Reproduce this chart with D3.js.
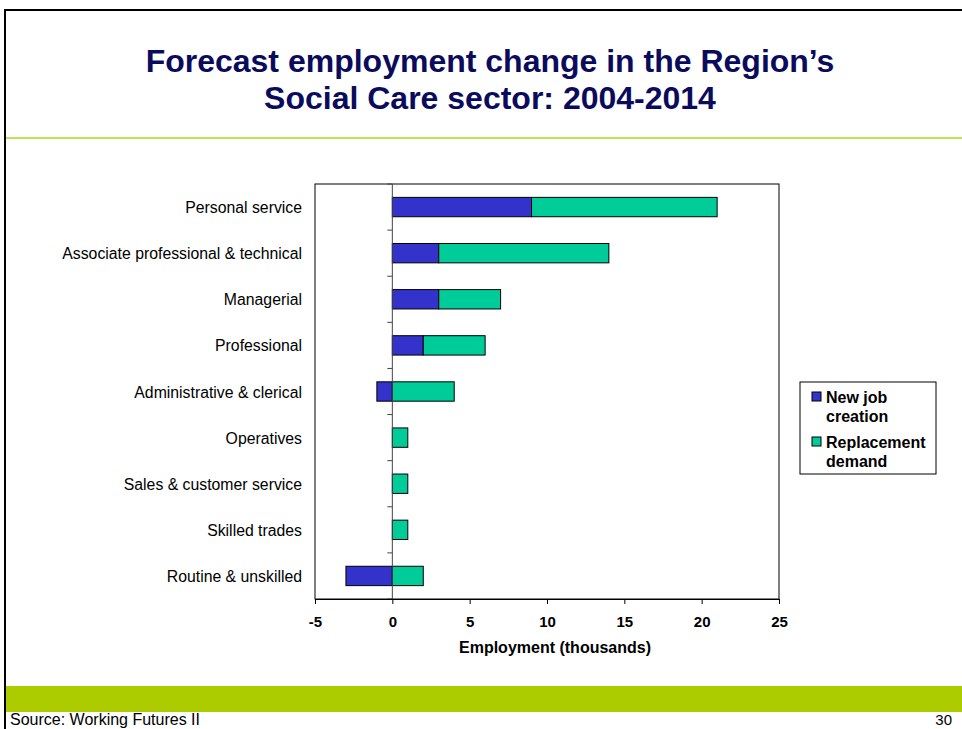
<!DOCTYPE html>
<html>
<head>
<meta charset="utf-8">
<script src="https://cdn.jsdelivr.net/npm/d3@7/dist/d3.min.js"></script>
<style>
  html, body { margin: 0; padding: 0; background: #fff; }
  svg { display: block; font-family: "Liberation Sans", Arial, sans-serif; }
</style>
</head>
<body>
<svg id="chart" width="962" height="729"></svg>
<script>
// Occupational groups, top to bottom
const categories = [
  "Personal service",
  "Associate professional & technical",
  "Managerial",
  "Professional",
  "Administrative & clerical",
  "Operatives",
  "Sales & customer service",
  "Skilled trades",
  "Routine & unskilled"
];
// Employment change, thousands
const newJobCreation    = [9, 3, 3, 2, -1, 0, 0, 0, -3];
const replacementDemand = [12, 11, 4, 4, 4, 1, 1, 1, 2];
const seriesNames = ["New job creation", "Replacement demand"];
const seriesColors = ["#3333CC", "#00CC99"];
const xTicks = [-5, 0, 5, 10, 15, 20, 25];

const svg = d3.select("#chart");
const W = 962, H = 729;

// Slide frame
svg.append("line").attr("x1", 5).attr("x2", W).attr("y1", 10).attr("y2", 10)
  .attr("stroke", "#000").attr("stroke-width", 2);
svg.append("line").attr("x1", 5).attr("x2", 5).attr("y1", 9).attr("y2", H)
  .attr("stroke", "#000").attr("stroke-width", 2);
svg.append("line").attr("x1", 6).attr("x2", W).attr("y1", 138).attr("y2", 138)
  .attr("stroke", "#bde35a").attr("stroke-width", 2);
svg.append("rect").attr("x", 6).attr("y", 686).attr("width", W - 6).attr("height", 26)
  .attr("fill", "#accc00");

// Title
const title = svg.append("text").attr("text-anchor", "middle")
  .attr("fill", "#0b0b5e").attr("font-weight", "bold").attr("font-size", 32);
title.append("tspan").attr("x", 490).attr("y", 72).text("Forecast employment change in the Region’s");
title.append("tspan").attr("x", 490).attr("y", 109).text("Social Care sector: 2004-2014");

// Footer
svg.append("text").attr("x", 10).attr("y", 725).attr("font-size", 16).attr("fill", "#000")
  .text("Source: Working Futures II");
svg.append("text").attr("x", 952).attr("y", 725).attr("font-size", 15).attr("fill", "#000")
  .attr("text-anchor", "end").text("30");

// Plot area
const plot = { left: 315, right: 779, top: 184, bottom: 599 };
const x = d3.scaleLinear().domain([-5, 25]).range([plot.left, plot.right]);
const y = d3.scaleBand().domain(categories).range([plot.top, plot.bottom]).paddingInner(0.58).paddingOuter(0.29);
const band = d3.scaleBand().domain(categories).range([plot.top, plot.bottom]);

svg.append("rect").attr("x", plot.left).attr("y", plot.top)
  .attr("width", plot.right - plot.left).attr("height", plot.bottom - plot.top)
  .attr("fill", "#fff").attr("stroke", "#000").attr("stroke-width", 1);

// Diverging stack: negatives go left of zero, positives right
const rows = categories.map((c, i) => ({ cat: c, vals: [newJobCreation[i], replacementDemand[i]] }));
const segs = [];
rows.forEach(r => {
  let pos = 0, neg = 0;
  r.vals.forEach((v, k) => {
    if (v === 0) return;
    let x0, x1;
    if (v > 0) { x0 = pos; x1 = pos + v; pos = x1; }
    else { x0 = neg + v; x1 = neg; neg = x0; }
    segs.push({ cat: r.cat, k, x0, x1 });
  });
});

svg.append("g").selectAll("rect").data(segs).join("rect")
  .attr("x", d => x(d.x0))
  .attr("width", d => x(d.x1) - x(d.x0))
  .attr("y", d => y(d.cat))
  .attr("height", y.bandwidth())
  .attr("fill", d => seriesColors[d.k])
  .attr("stroke", "#000").attr("stroke-width", 1);

// Category axis along the zero line
svg.append("line").attr("x1", x(0)).attr("x2", x(0)).attr("y1", plot.top).attr("y2", plot.bottom)
  .attr("stroke", "#444").attr("stroke-width", 1);
const bounds = d3.range(categories.length + 1).map(i => plot.top + i * band.step());
svg.append("g").selectAll("line").data(bounds).join("line")
  .attr("x1", x(0) - 5).attr("x2", x(0)).attr("y1", d => d).attr("y2", d => d)
  .attr("stroke", "#444").attr("stroke-width", 1);

svg.append("g").selectAll("text").data(categories).join("text")
  .attr("x", 302).attr("y", d => band(d) + band.bandwidth() / 2 + 6)
  .attr("text-anchor", "end").attr("font-size", 15.8).attr("fill", "#000")
  .text(d => d);

// Value axis
const xAxis = d3.axisBottom(x).tickValues(xTicks).tickSize(5).tickPadding(12).tickFormat(d => String(d));
const gx = svg.append("g").attr("transform", `translate(0,${plot.bottom})`).call(xAxis);
gx.select(".domain").attr("stroke", "#000");
gx.selectAll(".tick line").attr("stroke", "#000");
gx.selectAll(".tick text").attr("font-size", 15).attr("font-weight", "bold")
  .attr("fill", "#000").attr("font-family", "'Liberation Sans', Arial, sans-serif");

svg.append("text").attr("x", 555).attr("y", 653).attr("text-anchor", "middle")
  .attr("font-size", 16).attr("font-weight", "bold").attr("fill", "#000")
  .text("Employment (thousands)");

// Legend
const lg = svg.append("g");
lg.append("rect").attr("x", 800).attr("y", 382).attr("width", 136).attr("height", 92)
  .attr("fill", "#fff").attr("stroke", "#000").attr("stroke-width", 1);
const legendLines = [["New job", "creation"], ["Replacement", "demand"]];
seriesNames.forEach((n, k) => {
  const top = 392 + k * 45;
  lg.append("rect").attr("x", 812).attr("y", top).attr("width", 9).attr("height", 9)
    .attr("fill", seriesColors[k]).attr("stroke", "#000").attr("stroke-width", 1);
  const t = lg.append("text").attr("font-size", 16).attr("font-weight", "bold").attr("fill", "#000");
  legendLines[k].forEach((ln, j) => {
    t.append("tspan").attr("x", 826).attr("y", top + 11 + j * 19).text(ln);
  });
});
</script>
</body>
</html>
